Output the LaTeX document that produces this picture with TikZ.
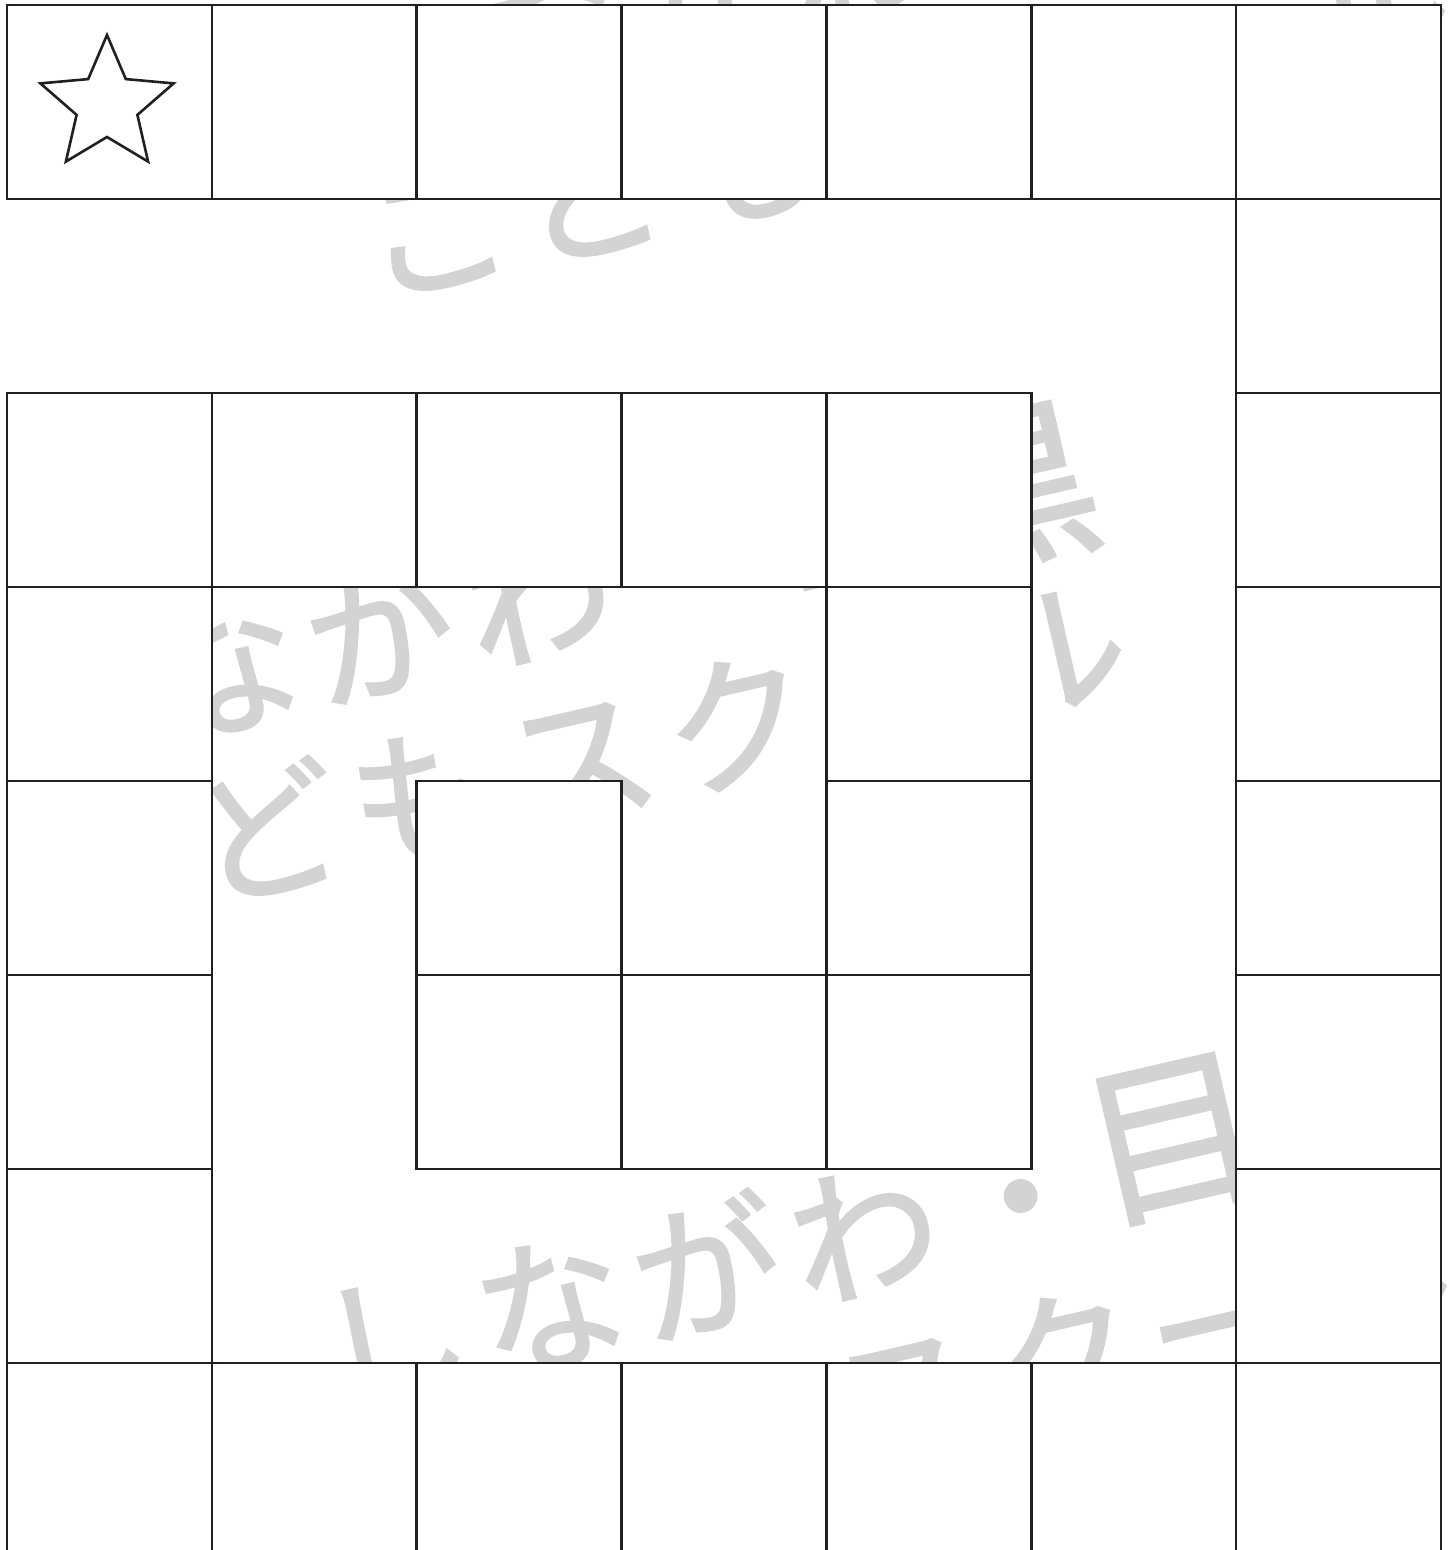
\documentclass[tikz,border=0pt]{standalone}
\usepackage{fontspec}
\newfontfamily\wmfont[FakeBold=1.6]{Noto Sans CJK JP}
\definecolor{wmgray}{RGB}{211,211,211}
\definecolor{ink}{RGB}{35,31,32}
\tikzset{
  wmchar/.style={inner sep=0pt, outer sep=0pt, text=wmgray,
    anchor=center, transform shape},
  wmsize0/.style={font=\wmfont\fontsize{74}{74}\selectfont,
    text height=65.1pt, text depth=8.9pt},
  wmsize1/.style={font=\wmfont\fontsize{88}{88}\selectfont,
    text height=77.4pt, text depth=10.6pt},
  cellbox/.style={draw=ink, fill=white, line width=1.3pt, inner sep=0pt,
    minimum width=102.43pt, minimum height=97pt},
  starline/.style={draw=ink, line width=1.3pt, line join=miter},
}
\newcommand\wmblock[3]{%
  \begin{scope}[shift={(#2,#3)}, rotate=13]
    \foreach \ch/\k/\dy [count=\i] in {し/0/0,な/0/0,が/0/0,わ/0/0,・/0/0,目/1/-26,黒/1/0}{
      \node[wmchar, wmsize\k] (#1a\i) at ({(\i-0.5)*161},\dy) {\ch};
    }
    \foreach \ch [count=\i] in {こ,ど,も,ス,ク,ー,ル}{
      \node[wmchar, wmsize0] (#1b\i) at ({(\i-0.5)*161+5},168) {\ch};
    }
  \end{scope}}
\begin{document}
\begin{tikzpicture}[x=0.5pt,y=-0.5pt]
  \useasboundingbox (0,0) rectangle (1448,1550);
  \clip (0,0) rectangle (1448,1550);
  \fill[white] (0,0) rectangle (1448,1550);
  % watermark
  \wmblock{wt}{312.7}{84}
  \wmblock{wm}{-11.3}{723}
  \wmblock{wb}{314.7}{1359}
  % cells: row/col list
  \foreach \r/\c in {0/0,0/1,0/2,0/3,0/4,0/5,0/6,
                     1/6,
                     2/0,2/1,2/2,2/3,2/4,2/6,
                     3/0,3/4,3/6,
                     4/0,4/2,4/4,4/6,
                     5/0,5/2,5/3,5/4,5/6,
                     6/0,6/6,
                     7/0,7/1,7/2,7/3,7/4,7/5,7/6}{
    \node[cellbox] (cell-\r-\c) at ({7+(\c+0.5)*204.857},{5+(\r+0.5)*194}) {};
  }
  % star
  \draw[starline] (107,35) -- (88.2,79.1) -- (40.4,83.4) -- (76.6,114.9)
    -- (65.9,161.6) -- (107,137) -- (148.1,161.6) -- (137.4,114.9)
    -- (173.6,83.4) -- (125.8,79.1) -- cycle;
\end{tikzpicture}
\end{document}
